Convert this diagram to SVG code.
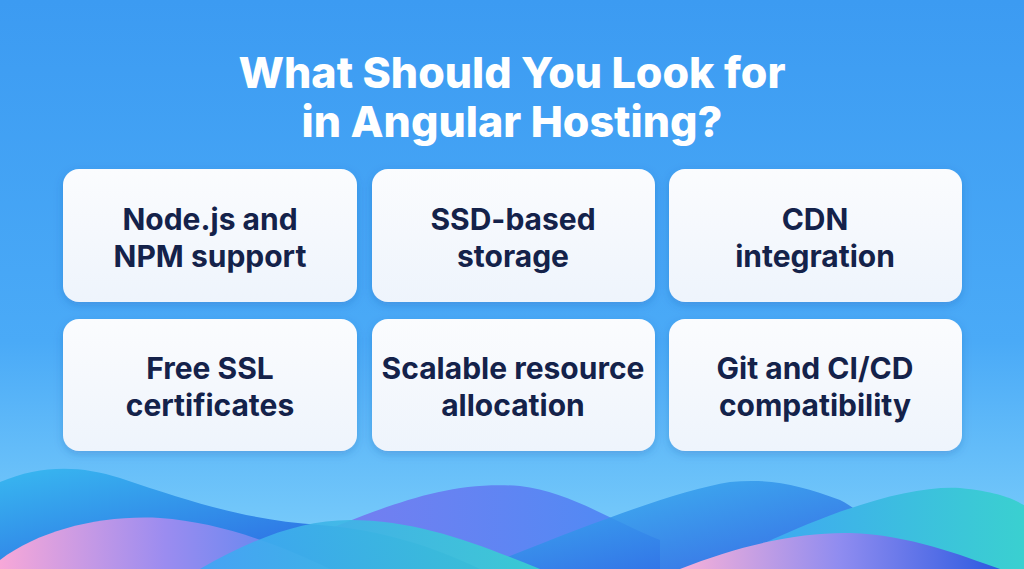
<svg xmlns="http://www.w3.org/2000/svg" width="1024" height="569" viewBox="0 0 1024 569">
<defs>
<linearGradient id="bg" x1="0" y1="0" x2="0" y2="1"><stop offset="0" stop-color="#3c9bf2"/><stop offset="0.6" stop-color="#4aaaf7"/><stop offset="1" stop-color="#7fd0fb"/></linearGradient>
<linearGradient id="box" x1="0" y1="0" x2="0" y2="1"><stop offset="0" stop-color="#fbfcfe"/><stop offset="1" stop-color="#eef4fc"/></linearGradient>
<linearGradient id="w1" x1="0" y1="0" x2="1" y2="1"><stop offset="0" stop-color="#38b8f0"/><stop offset="1" stop-color="#2a55e0"/></linearGradient>
<linearGradient id="w2" x1="0" y1="0" x2="1" y2="0"><stop offset="0" stop-color="#f7a8d8"/><stop offset="0.5" stop-color="#9b8cf0"/><stop offset="1" stop-color="#4a86f0"/></linearGradient>
<linearGradient id="w3" x1="0" y1="0" x2="1" y2="0"><stop offset="0" stop-color="#7a7cf0"/><stop offset="1" stop-color="#4b8cf5"/></linearGradient>
<linearGradient id="w4" x1="0" y1="0" x2="1" y2="0"><stop offset="0" stop-color="#3fa5f5"/><stop offset="1" stop-color="#3ad0d0"/></linearGradient>
<linearGradient id="w5" x1="0" y1="0" x2="1" y2="0"><stop offset="0" stop-color="#f7b0d8"/><stop offset="0.5" stop-color="#8f8cf0"/><stop offset="1" stop-color="#2d5ae0"/></linearGradient>
<filter id="sh" x="-10%" y="-10%" width="120%" height="130%"><feDropShadow dx="0" dy="3" stdDeviation="4" flood-color="#1a4fa0" flood-opacity="0.25"/></filter>
</defs>
<style>
.b{fill:url(#box);filter:url(#sh)}
.t{font-family:Inter,"Liberation Sans",sans-serif;font-weight:700;font-size:30px;fill:#14224a;text-anchor:middle}
.h{font-family:Inter,"Liberation Sans",sans-serif;font-weight:800;font-size:43px;fill:#ffffff;text-anchor:middle}
</style>
<rect width="1024" height="569" fill="url(#bg)"/>
<g id="waves">
<path d="M300 540 C380 510 440 480 520 486 C570 492 610 520 660 540 L660 569 L300 569 Z" fill="url(#w3)"/>
<path d="M500 560 C600 520 680 490 730 482 C770 478 800 485 840 500 C870 515 880 540 900 569 L500 569 Z" fill="url(#w1)" opacity="0.85"/>
<path d="M0 482 C40 465 80 465 120 478 C200 505 250 520 320 525 C380 530 430 545 480 569 L0 569 Z" fill="url(#w1)"/>
<path d="M0 569 L0 560 C40 530 100 515 160 518 C220 522 280 545 330 569 Z" fill="url(#w2)"/>
<path d="M200 569 C250 540 300 520 350 520 C420 520 480 545 540 569 Z" fill="url(#w4)" opacity="0.9"/>
<path d="M740 555 C830 510 910 485 960 488 C1000 492 1015 500 1024 505 L1024 569 L740 569 Z" fill="url(#w4)"/>
<path d="M680 569 C740 545 800 532 850 533 C910 535 960 555 1000 569 Z" fill="url(#w5)"/>
</g>
<g id="title">
<text class="h" x="512" y="88">What Should You Look for</text>
<text class="h" x="512" y="137">in Angular Hosting?</text>
</g>
<g id="n1"><rect class="b" x="63" y="169" width="294" height="133" rx="16"/><text class="t" x="210" y="230">Node.js and</text><text class="t" x="210" y="267">NPM support</text></g>
<g id="n2"><rect class="b" x="372" y="169" width="283" height="133" rx="16"/><text class="t" x="513" y="230">SSD-based</text><text class="t" x="513" y="267">storage</text></g>
<g id="n3"><rect class="b" x="669" y="169" width="293" height="133" rx="16"/><text class="t" x="815" y="230">CDN</text><text class="t" x="815" y="267">integration</text></g>
<g id="n4"><rect class="b" x="63" y="319" width="294" height="132" rx="16"/><text class="t" x="210" y="379">Free SSL</text><text class="t" x="210" y="416">certificates</text></g>
<g id="n5"><rect class="b" x="372" y="319" width="283" height="132" rx="16"/><text class="t" x="513" y="379">Scalable resource</text><text class="t" x="513" y="416">allocation</text></g>
<g id="n6"><rect class="b" x="669" y="319" width="293" height="132" rx="16"/><text class="t" x="815" y="379">Git and CI/CD</text><text class="t" x="815" y="416">compatibility</text></g>
<g id="connectors"/>
</svg>
